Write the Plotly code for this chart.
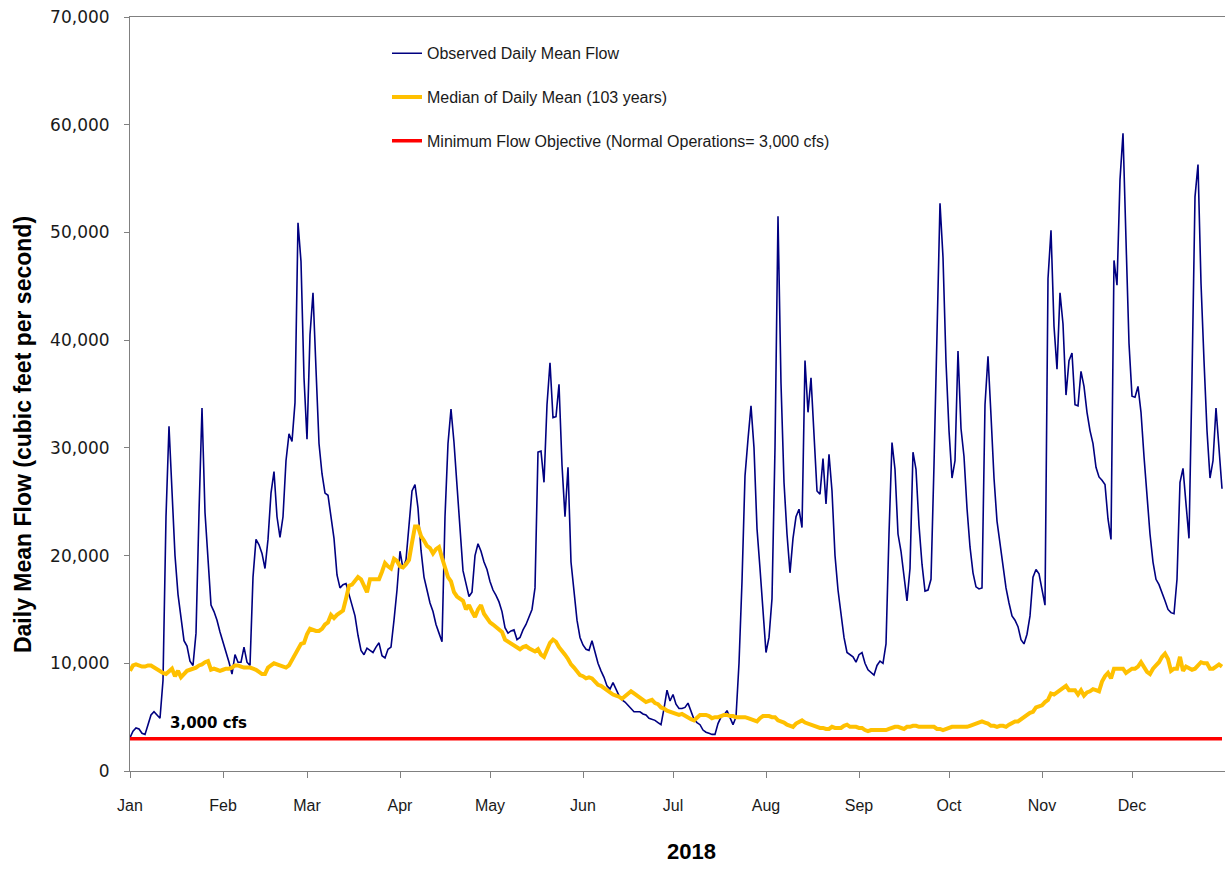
import pandas as pd
import plotly.graph_objects as go

# ---------------- data ----------------
year_label = "2018"
y_title = "Daily Mean Flow (cubic feet per second)"
month_starts = ["2018-01-01", "2018-02-01", "2018-03-01", "2018-04-01", "2018-05-01", "2018-06-01",
                "2018-07-01", "2018-08-01", "2018-09-01", "2018-10-01", "2018-11-01", "2018-12-01"]
month_labels = ["Jan", "Feb", "Mar", "Apr", "May", "Jun", "Jul", "Aug", "Sep", "Oct", "Nov", "Dec"]
y_ticks = [0, 10000, 20000, 30000, 40000, 50000, 60000, 70000]

observed_flow = [
    3100, 3700, 4000, 3900, 3500, 3400, 4300, 5200, 5500, 5200,
    4900, 8400, 23600, 32000, 26000, 20000, 16400, 14200, 12100, 11600,
    10200, 9800, 12800, 24000, 33700, 24000, 19400, 15400, 14800, 14000,
    12900, 12000, 11000, 10100, 9000, 10800, 10100, 10100, 11500, 10100,
    9800, 18000, 21500, 21000, 20200, 18800, 21500, 25800, 27800, 23600,
    21700, 23600, 28800, 31300, 30600, 34200, 50900, 47300, 36500, 30800,
    40500, 44400, 37300, 30400, 27600, 25800, 25600, 23600, 21600, 18200,
    17000, 17300, 17400, 16400, 15400, 14400, 12600, 11200, 10800, 11400,
    11200, 11000, 11500, 11900, 10700, 10500, 11300, 11500, 14000, 16800,
    20400, 18800, 19600, 22600, 26000, 26600, 24400, 20500, 18000, 16800,
    15600, 14800, 13600, 12800, 12000, 23600, 30400, 33600, 30500, 26500,
    22000, 18600, 17400, 16200, 16600, 20000, 21100, 20400, 19400, 18700,
    17600, 16800, 16300, 15700, 14800, 13300, 12800, 13000, 13100, 12200,
    12400, 13100, 13600, 14300, 15000, 17000, 29600, 29700, 26800, 34000,
    37900, 32800, 32900, 35900, 28400, 23600, 28200, 19400, 16800, 14000,
    12400, 11700, 11300, 11200, 12100, 11000, 10000, 9300, 8700, 7900,
    7600, 8200, 7600, 7000, 6600, 6400, 6100, 5800, 5500, 5500,
    5500, 5300, 5200, 4900, 4800, 4700, 4500, 4300, 5800, 7500,
    6500, 7100, 6200, 5800, 5800, 5900, 6300, 5600, 4800, 4500,
    4300, 3800, 3600, 3500, 3400, 3400, 4400, 5000, 5200, 5600,
    5000, 4300, 5000, 10000, 17600, 27400, 30800, 33900, 30000, 22500,
    18800, 14400, 11000, 12400, 16000, 30000, 51500, 36000, 26800, 22000,
    18400, 21600, 23600, 24300, 22600, 38100, 33300, 36500, 30800, 26000,
    25700, 29000, 24800, 29400, 26000, 20000, 16800, 14400, 12400, 11000,
    10800, 10600, 10100, 10800, 11000, 10000, 9400, 9100, 8900, 9800,
    10200, 10000, 11800, 22000, 30500, 28000, 22000, 20400, 18000, 15800,
    18800, 29600, 28000, 22800, 19200, 16700, 16800, 17800, 28400, 42000,
    52700, 47700, 38000, 31600, 27200, 28800, 39000, 31800, 29200, 24400,
    20800, 18400, 17100, 16900, 17000, 34000, 38500, 33000, 27200, 23200,
    21200, 19200, 17000, 15600, 14400, 14000, 13400, 12200, 11800, 12700,
    14400, 18000, 18700, 18300, 16800, 15400, 45700, 50200, 41300, 37300,
    44400, 41500, 34900, 38100, 38800, 34000, 33900, 37100, 35700, 33300,
    31600, 30400, 28200, 27300, 27000, 26600, 23400, 21500, 47400, 45100,
    54900, 59200, 49300, 39700, 34800, 34700, 35700, 33300, 29200, 25200,
    22000, 19400, 17800, 17300, 16600, 15800, 15000, 14700, 14600, 17800,
    26800, 28100, 24800, 21600, 36500, 53300, 56300, 45300, 38100, 31600,
    27200, 28800, 33700, 30000, 26200,
]

median_flow = [
    9300, 9800, 9900, 9800, 9700, 9700, 9800, 9800, 9600, 9500,
    9300, 9100, 9000, 9200, 9500, 8800, 9300, 8700, 9000, 9300,
    9400, 9500, 9600, 9800, 9900, 10100, 10200, 9400, 9500, 9400,
    9300, 9400, 9500, 9500, 9600, 9800, 9800, 9700, 9600, 9600,
    9600, 9500, 9400, 9200, 9000, 9000, 9600, 9800, 10000, 9900,
    9800, 9700, 9600, 9800, 10300, 10800, 11400, 11800, 11900, 12700,
    13200, 13100, 13000, 13000, 13200, 13600, 13800, 14500, 14200, 14500,
    14700, 14900, 16000, 17200, 17300, 17700, 18000, 17800, 17200, 16600,
    17800, 17800, 17800, 17800, 18500, 19300, 19000, 18800, 19700, 19500,
    19000, 18900, 19200, 19600, 21200, 22700, 22700, 21800, 21400, 20900,
    20700, 20200, 20600, 20800, 19800, 19000, 18000, 17600, 16600, 16200,
    16000, 15800, 15000, 15400, 14800, 14300, 15000, 15400, 14600, 14200,
    13800, 13600, 13400, 13100, 12900, 12200, 12000, 11800, 11700, 11500,
    11300, 11500, 11600, 11400, 11200, 11100, 11300, 10800, 10600, 11200,
    11900, 12200, 12000, 11500, 11200, 10800, 10400, 9900, 9600, 9200,
    8900, 8800, 8600, 8700, 8600, 8300, 8000, 7900, 7700, 7400,
    7200, 7100, 7000, 6900, 6700, 6900, 7100, 7400, 7200, 7000,
    6900, 6700, 6400, 6500, 6600, 6300, 6200, 5900, 5800, 5600,
    5500, 5400, 5300, 5200, 5300, 5100, 5000, 4800, 4700, 5000,
    5200, 5200, 5200, 5100, 4900, 5000, 5000, 5100, 5200, 5200,
    5100, 5100, 5000, 5000, 5000, 5000, 4900, 4800, 4700, 4600,
    4900, 5100, 5100, 5100, 5000, 5000, 4700, 4600, 4500, 4300,
    4200, 4100, 4400, 4600, 4700, 4500, 4400, 4300, 4200, 4100,
    4000, 4000, 3900, 3900, 4100, 4000, 4000, 4000, 4200, 4300,
    4100, 4100, 4100, 4000, 4000, 3800, 3700, 3800, 3800, 3800,
    3800, 3800, 3800, 3900, 4000, 4100, 4100, 4000, 3900, 4100,
    4100, 4200, 4200, 4100, 4100, 4100, 4100, 4100, 4100, 3900,
    3900, 3800, 3900, 4000, 4100, 4100, 4100, 4100, 4100, 4100,
    4200, 4300, 4400, 4500, 4600, 4500, 4400, 4200, 4200, 4100,
    4200, 4200, 4100, 4300, 4500, 4600, 4600, 4800, 5000, 5300,
    5400, 5500, 5900, 6000, 6100, 6400, 6600, 7200, 7100, 7300,
    7500, 7700, 7900, 7500, 7500, 7500, 7100, 7500, 7000, 7300,
    7400, 7600, 7500, 7400, 8300, 8800, 9100, 8600, 9500, 9500,
    9500, 9500, 9100, 9300, 9500, 9500, 9700, 10100, 9600, 9200,
    9000, 9500, 9800, 10100, 10600, 10900, 10400, 9300, 9500, 9500,
    10600, 9300, 9700, 9500, 9400, 9500, 9800, 10100, 10000, 10000,
    9500, 9500, 9700, 9900, 9700,
]

min_flow_objective = 3000

dates = pd.date_range("2018-01-01", periods=len(observed_flow), freq="D")
assert len(observed_flow) == 365 and len(median_flow) == 365

# ---------------- figure ----------------
fig = go.Figure()
fig.add_trace(go.Scatter(
    x=dates, y=observed_flow, mode="lines", name="Observed Daily Mean Flow",
    line=dict(color="#000080", width=1.6), legendgroup="a"))
fig.add_trace(go.Scatter(
    x=dates, y=median_flow, mode="lines", name="Median of Daily Mean (103 years)",
    line=dict(color="#FFC000", width=4), legendgroup="b"))
fig.add_trace(go.Scatter(
    x=dates, y=[min_flow_objective] * len(dates), mode="lines",
    name="Minimum Flow Objective (Normal Operations= 3,000 cfs)",
    line=dict(color="#FF0000", width=3.5), legendgroup="c"))

fig.add_annotation(
    x=pd.Timestamp("2018-01-27"), y=4450, xref="x", yref="y",
    xanchor="center", yanchor="middle",
    text="<b>3,000 cfs</b>", showarrow=False,
    font=dict(family="DejaVu Sans", size=15, color="#000000"))

# axis titles placed as in the reference
fig.add_annotation(
    x=-0.0977, y=0.4456, xref="paper", yref="paper", textangle=-90,
    xanchor="center", yanchor="middle",
    text="<b>" + y_title + "</b>", showarrow=False,
    font=dict(family="Liberation Sans", size=23, color="#000000"))
fig.add_annotation(
    x=0.5132, y=-0.1074, xref="paper", yref="paper",
    xanchor="center", yanchor="middle",
    text="<b>" + year_label + "</b>", showarrow=False,
    font=dict(family="Liberation Sans", size=22, color="#000000"))

fig.update_layout(
    width=1225, height=869,
    margin=dict(l=130, r=0, t=17, b=98),
    paper_bgcolor="white", plot_bgcolor="white",
    showlegend=True,
    legend=dict(x=0.2347, y=0.9744, xanchor="left", yanchor="top",
                bgcolor="rgba(0,0,0,0)", tracegroupgap=20,
                font=dict(family="Liberation Sans", size=16, color="#1a1a1a")),
    xaxis=dict(
        type="date", range=["2018-01-01", "2019-01-01"], automargin=False,
        tickvals=month_starts, ticktext=month_labels,
        ticks="outside", ticklen=6, tickcolor="#808080",
        showline=True, linecolor="#808080", linewidth=1, mirror=True,
        showgrid=False, zeroline=False, ticklabelstandoff=14,
        tickfont=dict(family="Liberation Sans", size=16, color="#1a1a1a"),
    ),
    yaxis=dict(
        range=[0, 70000], tickvals=y_ticks, tickformat=",", automargin=False,
        ticks="outside", ticklen=5, tickcolor="#808080",
        showline=True, linecolor="#808080", linewidth=1,
        showgrid=False, zeroline=False, ticklabelstandoff=11,
        ticklabeloverflow="allow",
        tickfont=dict(family="DejaVu Sans", size=17, color="#1a1a1a"),
    ),
)

fig.write_html(
    "out.html",
    config={"displayModeBar": False},
    post_script="document.body.style.margin='0';document.body.style.overflow='hidden';",
)
